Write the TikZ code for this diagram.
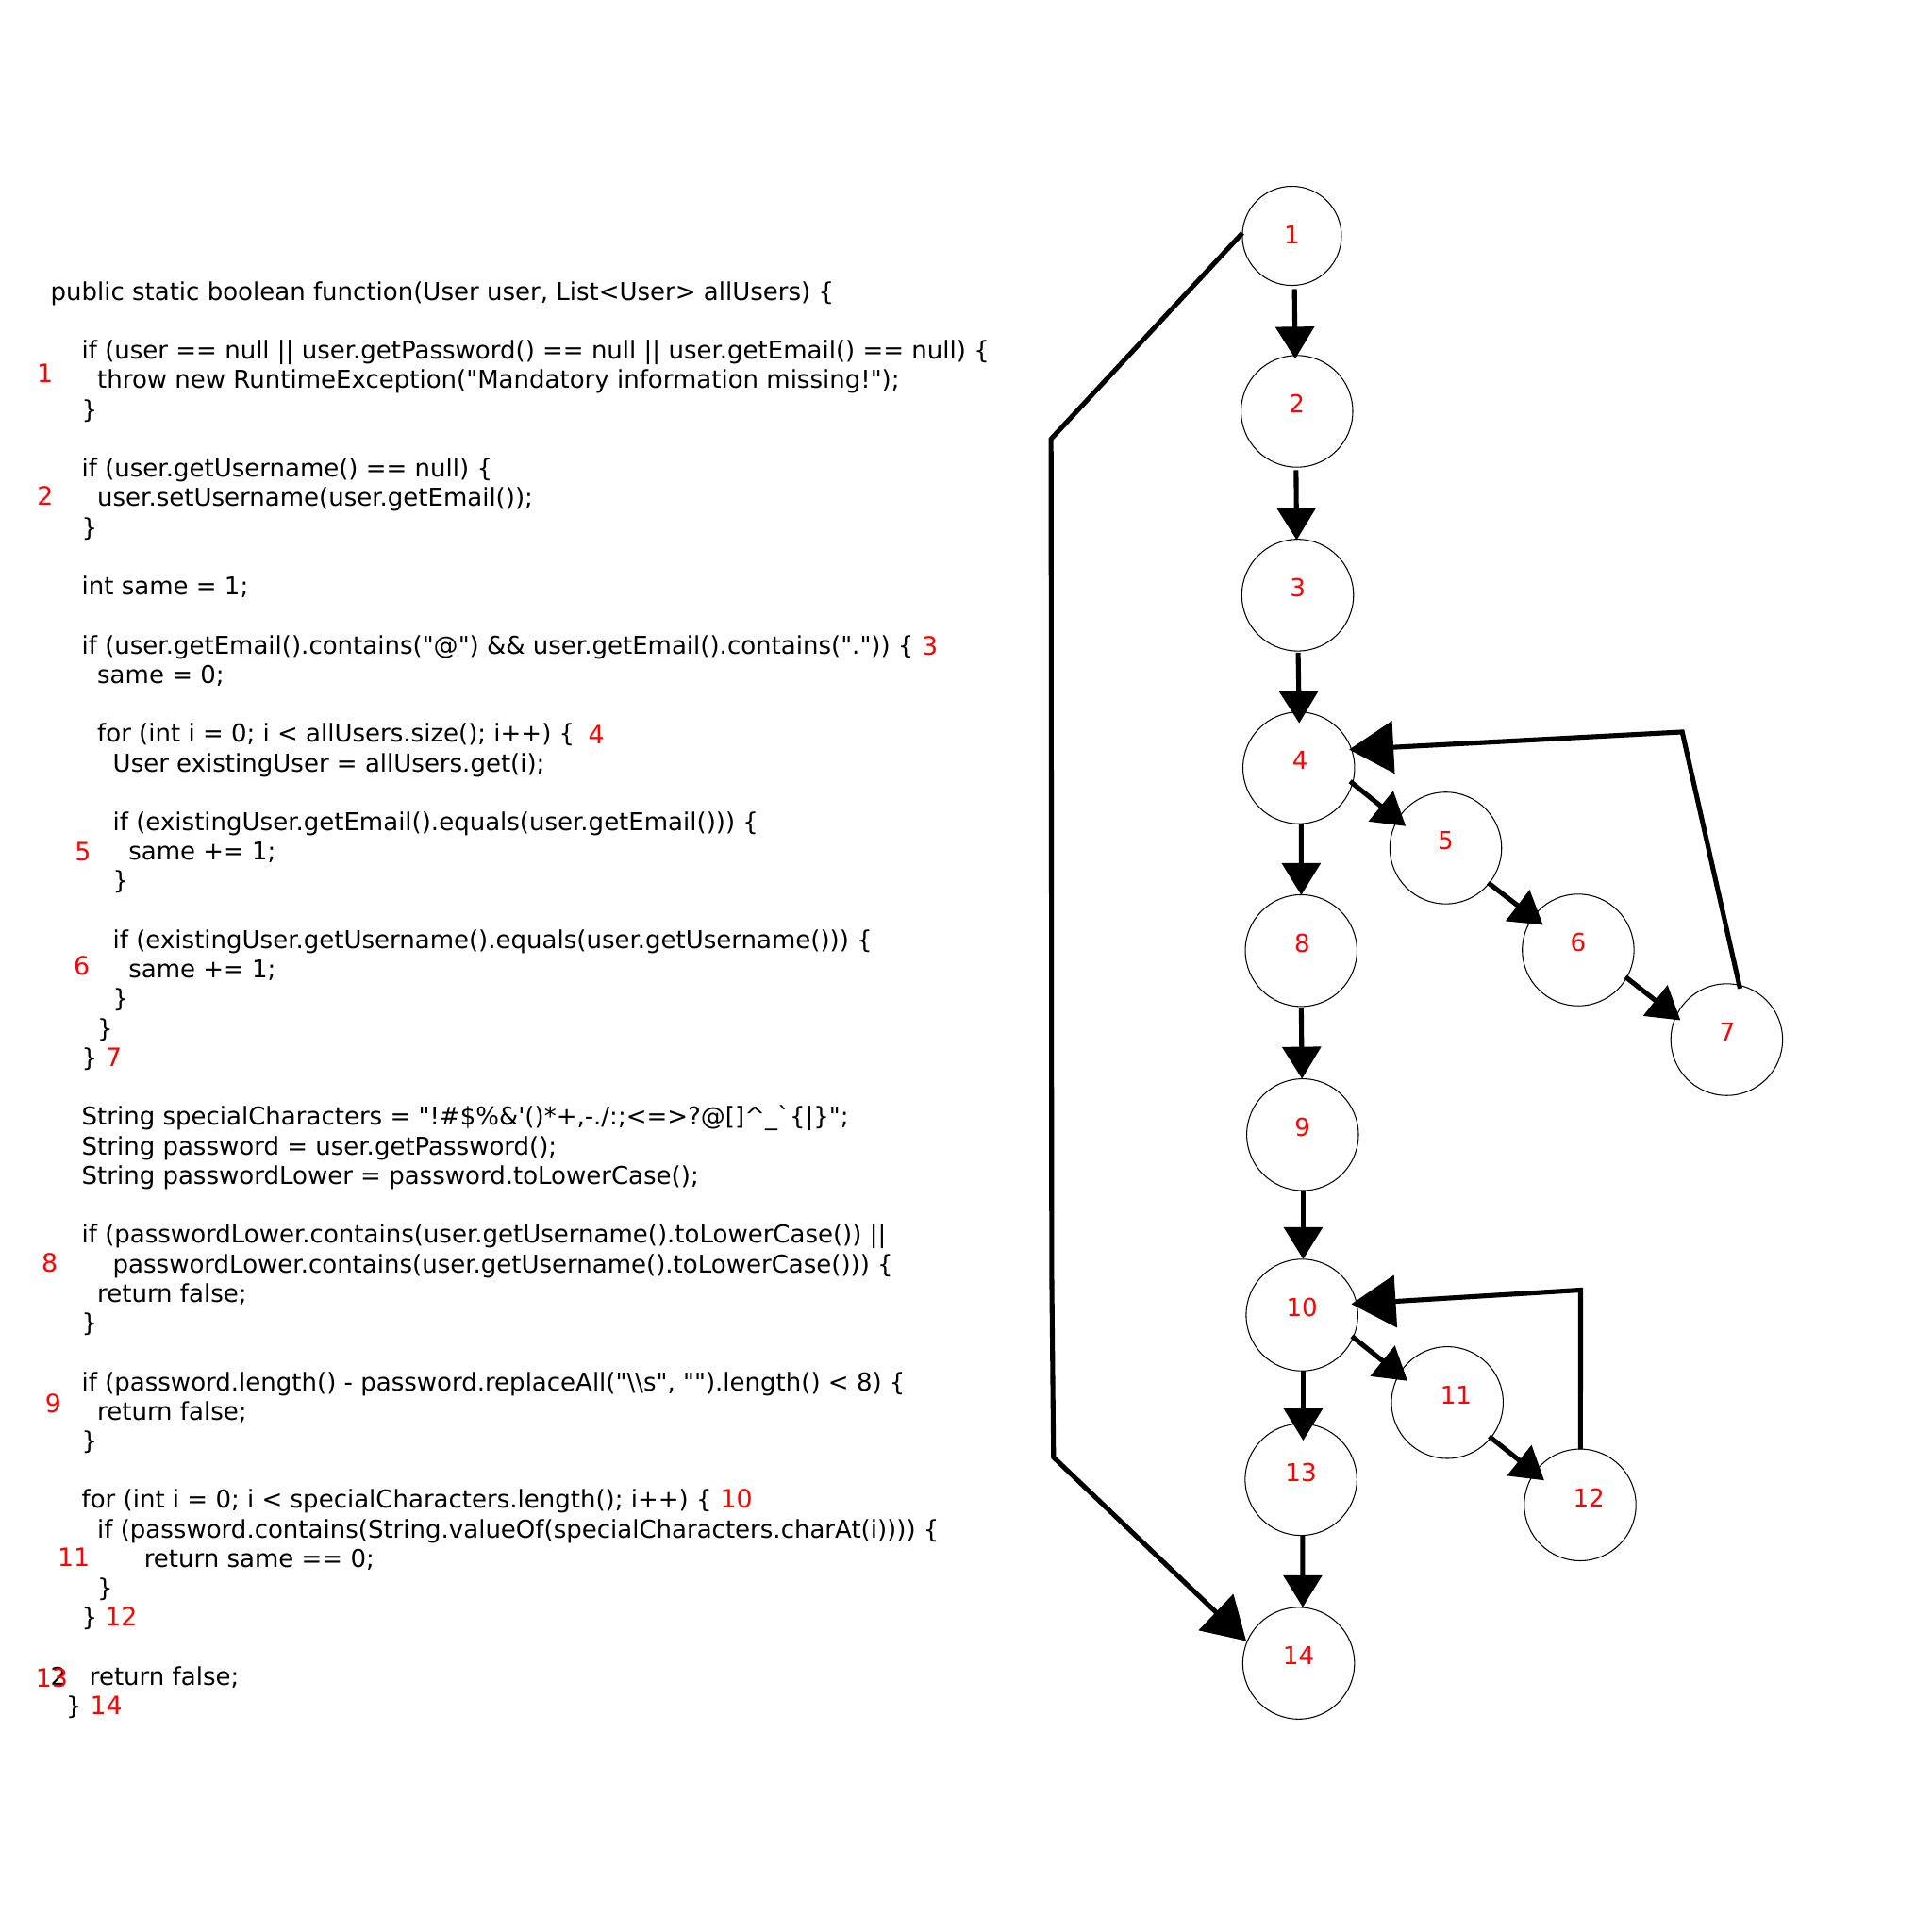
\documentclass[tikz,border=0pt]{standalone}
\usepackage{fontspec}
\setmainfont{DejaVu Sans}[Ligatures={TeXOff,CommonOff}]
\usetikzlibrary{arrows.meta,calc}
\newcommand\ind[1]{\hspace*{#1\fontdimen2\font}}
\newcommand\cl[4]{\node[code] (#1) at (40.8,{243.5+23.9*#2}) {\ind{#3}#4};}
\begin{document}
\begin{tikzpicture}[x=1pt,y=-1pt,
  code/.style={anchor=base west, inner sep=0pt, font=\fontsize{19.9}{24}\selectfont},
  rnum/.style={anchor=base west, inner sep=0pt, text=red, font=\fontsize{20.5}{24}\selectfont},
  cnode/.style={circle, draw=black, line width=0.8pt, minimum size=90.6pt, inner sep=0pt},
  cnodesmall/.style={cnode, minimum size=80.4pt},
  clab/.style={text=red, inner sep=0pt, font=\fontsize{20}{24}\selectfont},
  edge/.style={line width=3.9pt, -{Triangle[length=26pt,width=31pt]}},
  backedge/.style={line width=3.9pt, -{Triangle[length=36pt,width=42pt]}},
  longedge/.style={line width=3.9pt, -{Triangle[length=34pt,width=40pt]}}]
\useasboundingbox (0,0) rectangle (1567,1567);

% ---------------- code text ----------------
\cl{c0}{0}{0}{public static boolean function(User user, List<User> allUsers) \{}
\cl{c2}{2}{4}{if (user == null || user.getPassword() == null || user.getEmail() == null) \{}
\cl{c3}{3}{6}{throw new RuntimeException("Mandatory information missing!");}
\cl{c4}{4}{4}{\}}
\cl{c6}{6}{4}{if (user.getUsername() == null) \{}
\cl{c7}{7}{6}{user.setUsername(user.getEmail());}
\cl{c8}{8}{4}{\}}
\cl{c10}{10}{4}{int same = 1;}
\cl{c12}{12}{4}{if (user.getEmail().contains("@") \&\& user.getEmail().contains(".")) \{}
\cl{c13}{13}{6}{same = 0;}
\cl{c15}{15}{6}{for (int i = 0; i < allUsers.size(); i++) \{}
\cl{c16}{16}{8}{User existingUser = allUsers.get(i);}
\cl{c18}{18}{8}{if (existingUser.getEmail().equals(user.getEmail())) \{}
\cl{c19}{19}{10}{same += 1;}
\cl{c20}{20}{8}{\}}
\cl{c22}{22}{8}{if (existingUser.getUsername().equals(user.getUsername())) \{}
\cl{c23}{23}{10}{same += 1;}
\cl{c24}{24}{8}{\}}
\cl{c25}{25}{6}{\}}
\cl{c26}{26}{4}{\}}
\cl{c28}{28}{4}{String specialCharacters = "!\#\$\%\&'()*+,-./:;<=>?@[]\textasciicircum\_`\{|\}";}
\cl{c29}{29}{4}{String password = user.getPassword();}
\cl{c30}{30}{4}{String passwordLower = password.toLowerCase();}
\cl{c32}{32}{4}{if (passwordLower.contains(user.getUsername().toLowerCase()) ||}
\cl{c33}{33}{8}{passwordLower.contains(user.getUsername().toLowerCase())) \{}
\cl{c34}{34}{6}{return false;}
\cl{c35}{35}{4}{\}}
\cl{c37}{37}{4}{if (password.length() - password.replaceAll("\textbackslash\textbackslash s", "").length() < 8) \{}
\cl{c38}{38}{6}{return false;}
\cl{c39}{39}{4}{\}}
\cl{c41}{41}{4}{for (int i = 0; i < specialCharacters.length(); i++) \{}
\cl{c42}{42}{6}{if (password.contains(String.valueOf(specialCharacters.charAt(i)))) \{}
\cl{c43}{43}{12}{return same == 0;}
\cl{c44}{44}{6}{\}}
\cl{c45}{45}{4}{\}}
\cl{c47}{47}{0}{2\ind{3}return false;}
\cl{c48}{48}{2}{\}}

% ---------------- red line numbers ----------------
\node[rnum] (r1) at (29.7,310.5) {1};
\node[rnum] (r2) at (30,409.5) {2};
\node[rnum] (r3) at (747.5,531.5) {3};
\node[rnum] (r4) at (477,603) {4};
\node[rnum] (r5) at (60.5,698) {5};
\node[rnum] (r6) at (59.5,791) {6};
\node[rnum] (r7) at (85.5,865) {7};
\node[rnum] (r8) at (33.5,1032) {8};
\node[rnum] (r9) at (36.5,1146) {9};
\node[rnum] (r10) at (584,1223) {10};
\node[rnum] (r11) at (46.5,1270.5) {11};
\node[rnum] (r12) at (85,1319) {12};
\node[rnum] (r13) at (28.7,1368.5) {13};
\node[rnum] (r14) at (73,1390.5) {14};

% ---------------- graph nodes ----------------
\node[cnodesmall] (n1) at (1047.8,191.3) {};
\node[cnode] (n2) at (1051.9,333.6) {};
\node[cnode] (n3) at (1052.5,482.7) {};
\node[cnode] (n4) at (1053.4,622.8) {};
\node[cnode] (n5) at (1172.6,687.8) {};
\node[cnode] (n6) at (1280.0,770.5) {};
\node[cnode] (n7) at (1400.5,843.2) {};
\node[cnode] (n8) at (1055.3,771.0) {};
\node[cnode] (n9) at (1056.5,920.3) {};
\node[cnode] (n10) at (1056.0,1066.6) {};
\node[cnode] (n11) at (1173.9,1137.6) {};
\node[cnode] (n12) at (1281.6,1220.6) {};
\node[cnode] (n13) at (1055.2,1200.0) {};
\node[cnode] (n14) at (1053.3,1349.0) {};

\node[clab] (l1) at ($(n1)+(0,-1)$) {1};
\node[clab] (l2) at ($(n2)+(0,-6)$) {2};
\node[clab] (l3) at ($(n3)+(0,-6)$) {3};
\node[clab] (l4) at ($(n4)+(1,-6)$) {4};
\node[clab] (l5) at ($(n5)+(0,-6)$) {5};
\node[clab] (l6) at ($(n6)+(0,-6)$) {6};
\node[clab] (l7) at ($(n7)+(0.5,-6)$) {7};
\node[clab] (l8) at ($(n8)+(1,-6)$) {8};
\node[clab] (l9) at ($(n9)+(0,-6)$) {9};
\node[clab] (l10) at ($(n10)+(0,-6)$) {10};
\node[clab] (l11) at ($(n11)+(7,-6)$) {11};
\node[clab] (l12) at ($(n12)+(7,-6)$) {12};
\node[clab] (l13) at ($(n13)+(0,-6)$) {13};
\node[clab] (l14) at ($(n14)+(0,-6)$) {14};

% ---------------- connectors ----------------
\draw[edge] ($(n1)+(2.1,43.2)$) -- ($(n2)+(-1.4,-42.6)$);
\draw[edge] ($(n2)+(-0.7,47.7)$) -- ($(n3)+(-0.8,-44.7)$);
\draw[edge] ($(n3)+(0.4,46.7)$) -- ($(n4)+(0.4,-36.2)$);
\draw[edge] ($(n4)+(2,45.2)$) -- ($(n8)+(0.1,-45)$);
\draw[edge] ($(n8)+(0.1,46.3)$) -- ($(n9)+(-0.5,-45.3)$);
\draw[edge] ($(n9)+(0.5,45.7)$) -- ($(n10)+(1,-45.3)$);
\draw[edge] ($(n10)+(1,45.2)$) -- ($(n13)+(1.8,-31.6)$);
\draw[edge] ($(n13)+(1.4,45.7)$) -- ($(n14)+(3.3,-45.4)$);
\draw[edge] ($(n4)+(41.6,10.9)$) -- ($(n5)+(-32.4,-17.7)$);
\draw[edge] ($(n5)+(34.4,28.2)$) -- ($(n6)+(-28.5,-20.3)$);
\draw[edge] ($(n6)+(38.4,21.8)$) -- ($(n7)+(-37.5,-15.7)$);
\draw[edge] ($(n10)+(40.5,17.2)$) -- ($(n11)+(-32.3,-17.6)$);
\draw[edge] ($(n11)+(34,27.4)$) -- ($(n12)+(-29.1,-19.9)$);

\coordinate (k74) at (1364.4,593.7);
\draw[backedge] ($(n7)+(10.8,-41.4)$) -- (k74) -- ($(n4)+(40.8,-14.8)$);
\coordinate (k1210) at (1282,1046.3);
\draw[backedge] ($(n12)+(0.3,-45)$) -- (k1210) -- ($(n10)+(40,-8.9)$);
\coordinate (ka) at (852.5,356);
\coordinate (kb) at (853,1030);
\coordinate (kc) at (854.5,1182);
\draw[longedge] ($(n1)+(-40.1,-2.3)$) -- (ka) -- (kb) -- (kc) -- ($(n14)+(-42.5,-18)$);
\end{tikzpicture}
\end{document}
